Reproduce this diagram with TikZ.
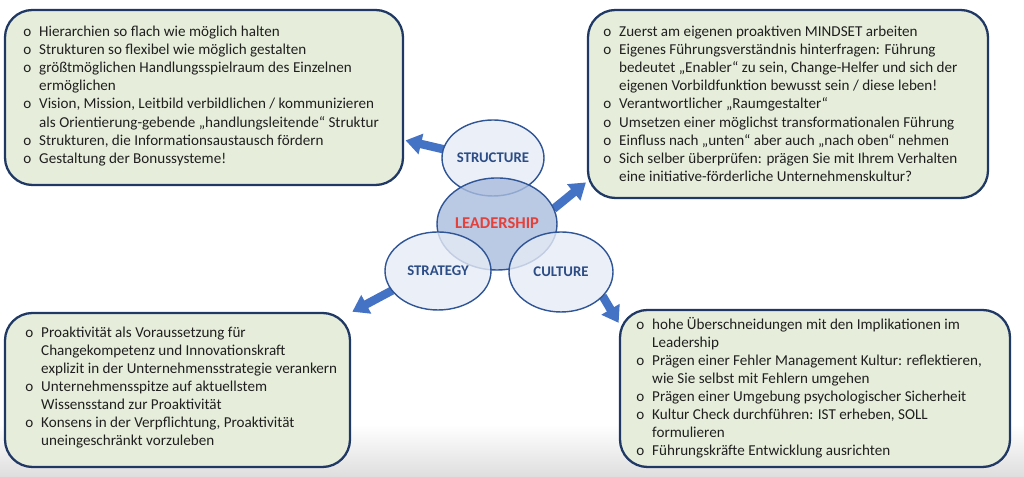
\documentclass[tikz,border=0pt]{standalone}
\usepackage{fontspec}
\setmainfont{Carlito}
\usetikzlibrary{shapes.geometric,arrows.meta,positioning,backgrounds}

\definecolor{boxfill}{HTML}{E6EEDB}
\definecolor{boxline}{HTML}{1F3864}
\definecolor{bubblefill}{HTML}{E6EBF5}
\definecolor{leadfill}{HTML}{A9BCDD}
\definecolor{bubbleline}{HTML}{2F5597}
\definecolor{arrowblue}{HTML}{4472C4}
\definecolor{leadred}{HTML}{E5403A}
\definecolor{labelblue}{HTML}{2B4C86}

\newcommand{\bulo}{o}

\begin{document}
\begin{tikzpicture}
  \tikzset{>={Triangle[width=11.5pt,length=9pt]}}
  \tikzset{
    infobox/.style={draw=boxline,fill=boxfill,rectangle,rounded corners=5.5mm,inner sep=0pt,outer sep=0pt,line width=1.3pt},
    infotext/.style={inner sep=0pt,anchor=north west,text=black!88,font=\fontsize{8.6}{10.3}\selectfont},
    bubble/.style={draw=bubbleline,fill=bubblefill,fill opacity=0.8,text opacity=1,ellipse,inner sep=0pt,outer sep=0pt,line width=0.8pt},
    bubbletext/.style={text=labelblue,font=\fontsize{8.4}{9}\selectfont\bfseries},
    flow/.style={draw=arrowblue,line width=4.8pt,shorten >=1.5pt}
  }

  \useasboundingbox (0,0) rectangle (20.48,9.54);
  %\draw[step=1cm,gray,very thin] (0,0) grid (20,9);

%%%%%%%%%%%%%%%%%%%%%%%%%%
% BOXES
\node[infobox,minimum width=7.96cm,minimum height=3.50cm] at (4.08,7.59) (A1) {};
\node[infobox,minimum width=8.00cm,minimum height=3.76cm] at (15.76,7.46) (A2) {};
\node[infobox,minimum width=6.90cm,minimum height=3.08cm] at (3.55,1.74) (A3) {};
\node[infobox,minimum width=7.80cm,minimum height=3.14cm] at (16.30,1.77) (A4) {};

%%%%%%%%%%%%%%%%%%%%%%%%%%
% BUBBLES
\node[bubble,minimum width=2.04cm,minimum height=1.52cm] at (9.86,6.38) (NStructure) {};
\node[bubble,fill=leadfill,minimum width=2.40cm,minimum height=1.84cm] at (9.94,5.06) (NLeadership) {};
\node[bubble,minimum width=2.12cm,minimum height=1.56cm] at (8.76,4.12) (NStrategy) {};
\node[bubble,minimum width=2.08cm,minimum height=1.60cm] at (11.22,4.10) (NCulture) {};

\node[bubbletext] (LStructure) at (NStructure.center) {STRUCTURE};
\node[bubbletext,text=leadred,font=\fontsize{9.4}{10}\selectfont\bfseries] (LLeadership) at ([yshift=0.02cm]NLeadership.center) {LEADERSHIP};
\node[bubbletext] (LStrategy) at (NStrategy.center) {STRATEGY};
\node[bubbletext] (LCulture) at (NCulture.center) {CULTURE};

%%%
% ARROWS
\begin{scope}[on background layer]
\shade[top color=white,bottom color=black!13] (0,0) rectangle (20.48,1.05);
\draw [->,flow] (NStructure.170) -- (A1.-12);
\draw [->,flow] (NLeadership.15) -- (A2.201);
\draw [->,flow] (NStrategy.203) -- (A3.north east);
\draw [->,flow] (NCulture.330) -- (A4.162);
\end{scope}

%%%%%%%%%%%%%%%%%%%%%%%%%%
% TEXTS
\node[infotext] (TStructure) at ([xshift=3.6mm,yshift=-2.7mm]A1.north west) {%
\begin{tabular}{@{}l@{\hspace{4.5pt}}l@{}}
\bulo & Hierarchien so flach wie möglich halten\\
\bulo & Strukturen so flexibel wie möglich gestalten\\
\bulo & größtmöglichen Handlungsspielraum des Einzelnen\\
      & ermöglichen\\
\bulo & Vision, Mission, Leitbild verbildlichen / kommunizieren\\
      & als Orientierung-gebende „handlungsleitende“ Struktur\\
\bulo & Strukturen, die Informationsaustausch fördern\\
\bulo & Gestaltung der Bonussysteme!
\end{tabular}};

\node[infotext] (TLeadership) at ([xshift=3.0mm,yshift=-2.7mm]A2.north west) {%
\begin{tabular}{@{}l@{\hspace{4.5pt}}l@{}}
\bulo & Zuerst am eigenen proaktiven MINDSET arbeiten\\
\bulo & Eigenes Führungsverständnis hinterfragen: Führung\\
      & bedeutet „Enabler“ zu sein, Change-Helfer und sich der\\
      & eigenen Vorbildfunktion bewusst sein / diese leben!\\
\bulo & Verantwortlicher „Raumgestalter“\\
\bulo & Umsetzen einer möglichst transformationalen Führung\\
\bulo & Einfluss nach „unten“ aber auch „nach oben“ nehmen\\
\bulo & Sich selber überprüfen: prägen Sie mit Ihrem Verhalten\\
      & eine initiative-förderliche Unternehmenskultur?
\end{tabular}};

\node[infotext] (TStrategy) at ([xshift=4.0mm,yshift=-2.2mm]A3.north west) {%
\begin{tabular}{@{}l@{\hspace{4.5pt}}l@{}}
\bulo & Proaktivität als Voraussetzung für\\
      & Changekompetenz und Innovationskraft\\
      & explizit in der Unternehmensstrategie verankern\\
\bulo & Unternehmensspitze auf aktuellstem\\
      & Wissensstand zur Proaktivität\\
\bulo & Konsens in der Verpflichtung, Proaktivität\\
      & uneingeschränkt vorzuleben
\end{tabular}};

\node[infotext] (TCulture) at ([xshift=3.2mm,yshift=-1.2mm]A4.north west) {%
\begin{tabular}{@{}l@{\hspace{4.5pt}}l@{}}
\bulo & hohe Überschneidungen mit den Implikationen im\\
      & Leadership\\
\bulo & Prägen einer Fehler Management Kultur: reflektieren,\\
      & wie Sie selbst mit Fehlern umgehen\\
\bulo & Prägen einer Umgebung psychologischer Sicherheit\\
\bulo & Kultur Check durchführen: IST erheben, SOLL\\
      & formulieren\\
\bulo & Führungskräfte Entwicklung ausrichten
\end{tabular}};

\end{tikzpicture}
\end{document}
